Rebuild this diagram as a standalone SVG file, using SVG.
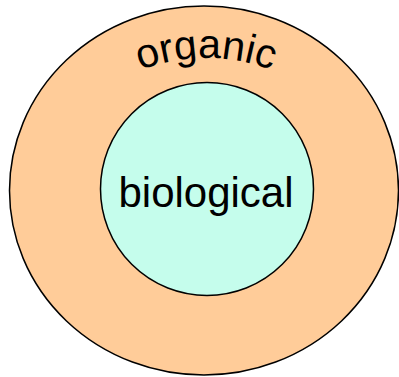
<svg xmlns="http://www.w3.org/2000/svg" width="399" height="377" viewBox="0 0 399 377">
<defs>
<style>
.lbl{font-family:"Liberation Sans",Arial,sans-serif;fill:#000}
.shape{stroke:#000;stroke-width:1.5}
</style>
<path id="arc" d="M 22 242 A 184 184 0 0 1 390 242" fill="none"/>
</defs>
<rect width="399" height="377" fill="#fff"/>
<g id="organic">
<ellipse class="shape" cx="204" cy="190.5" rx="194.5" ry="184.5" fill="#FFCC99"/>
<text class="lbl" font-size="41" text-anchor="middle"><textPath href="#arc" startOffset="50%">organic</textPath></text>
</g>
<g id="biological">
<circle class="shape" cx="207" cy="189" r="106.5" fill="#C5FDEC"/>
<text class="lbl" x="206" y="207" font-size="42" text-anchor="middle">biological</text>
</g>
<g id="connectors"/>
</svg>
